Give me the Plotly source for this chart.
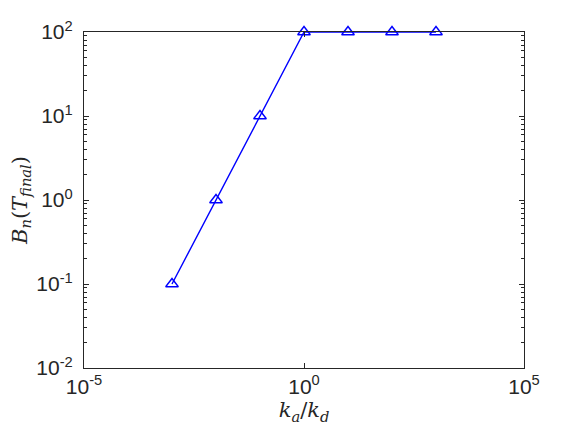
import plotly.graph_objects as go

# ratio k_a/k_d and final B_n values
ratio = [1e-3, 1e-2, 1e-1, 1e0, 1e1, 1e2, 1e3]
bn_final = [0.1, 1, 10, 100, 100, 100, 100]

x_ticks = [1e-5, 1e0, 1e5]
x_labels = ['10<sup>-5</sup>', '10<sup>0</sup>', '10<sup>5</sup>']
y_ticks = [1e-2, 1e-1, 1e0, 1e1, 1e2]
y_labels = ['10<sup>-2</sup>', '10<sup>-1</sup>', '10<sup>0</sup>', '10<sup>1</sup>', '10<sup>2</sup>']
y_minor = [m * 10.0 ** e for e in range(-2, 2) for m in range(2, 10)]

fig = go.Figure()
fig.add_trace(go.Scatter(
    x=ratio, y=bn_final, mode='lines+markers',
    line=dict(color='#0000ff', width=1.4),
    marker=dict(symbol='triangle-up-open', size=11, color='#0000ff', line=dict(width=1.4)),
    cliponaxis=False, showlegend=False
))
# invisible trace so the minor-tick axis gets drawn
fig.add_trace(go.Scatter(x=ratio, y=bn_final, yaxis='y2', mode='lines',
                         line=dict(width=0), hoverinfo='skip', showlegend=False))

axis_common = dict(
    type='log', showgrid=False, zeroline=False, automargin=False,
    showline=True, mirror='ticks', linecolor='#262626', linewidth=1.2,
    ticks='inside', ticklen=5, tickcolor='#262626',
    tickfont=dict(family='Liberation Sans, Arial', size=21, color='#262626'),
)

fig.update_layout(
    width=581, height=436,
    margin=dict(l=76, r=65, t=24, b=76),
    plot_bgcolor='white', paper_bgcolor='white',
    xaxis=dict(range=[-5, 5], tickvals=x_ticks, ticktext=x_labels,
               title=dict(text='<i>k</i><sub><i>a</i></sub>/<i>k</i><sub><i>d</i></sub>',
                          font=dict(family='DejaVu Serif', size=21, color='#262626'), standoff=2),
               **axis_common),
    yaxis=dict(range=[-2, 2], tickvals=y_ticks, ticktext=y_labels, ticklabelstandoff=6,
               title=dict(text='<i>B</i><sub><i>n</i></sub>(<i>T</i><sub><i>final</i></sub>)',
                          font=dict(family='DejaVu Serif', size=21, color='#262626'), standoff=6),
               **axis_common),
    yaxis2=dict(type='log', range=[-2, 2], overlaying='y', side='left', showgrid=False,
                zeroline=False, showline=False, mirror='ticks', tickvals=y_minor,
                showticklabels=False, ticks='inside', ticklen=3, tickcolor='#262626'),
)

fig.write_html("out.html")
